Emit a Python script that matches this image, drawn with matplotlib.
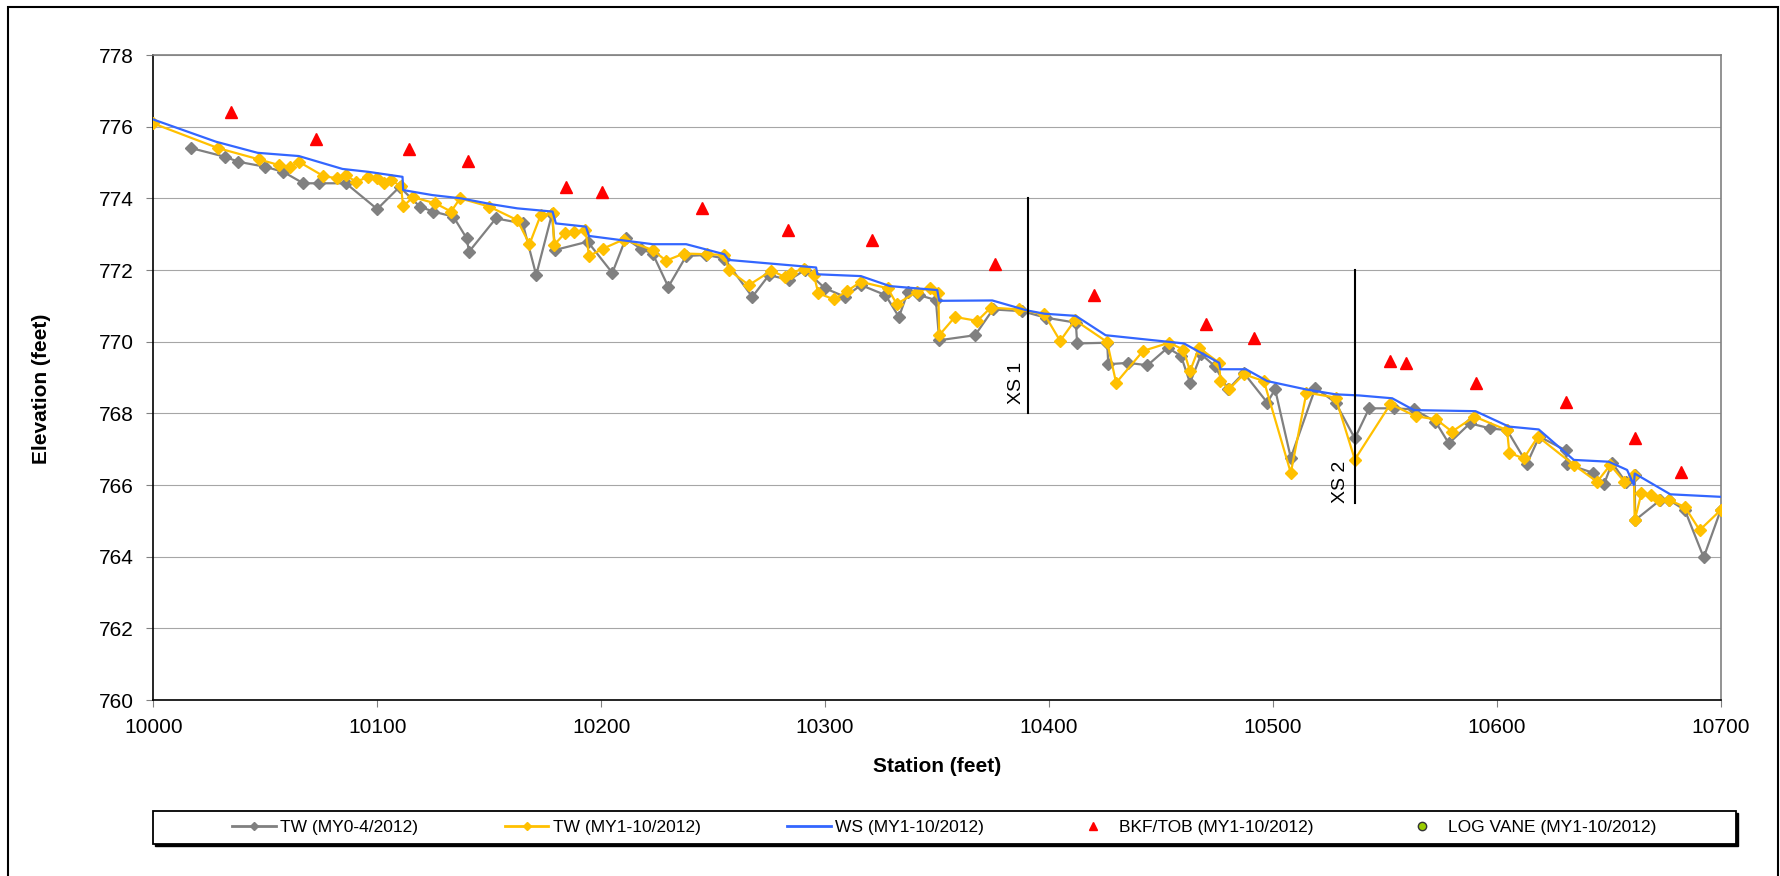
import matplotlib
matplotlib.use('Agg')
import matplotlib.pyplot as plt
from matplotlib.lines import Line2D
from matplotlib.patches import Rectangle

plt.rcParams['font.family'] = ['Liberation Sans', 'DejaVu Sans']

# TW (MY0-4/2012)
tw0_station = [10017, 10032, 10038, 10050, 10058, 10067, 10074, 10086, 10100, 10110,
               10119, 10125, 10134, 10140, 10141, 10153, 10165, 10171, 10178, 10179.5,
               10194, 10205, 10211, 10218, 10223, 10230, 10238, 10247, 10255, 10267.5,
               10275, 10284, 10291, 10300, 10309, 10316, 10327, 10333, 10337, 10342,
               10349.5, 10351, 10367, 10375, 10388, 10398.5, 10412, 10412.6, 10426, 10426.5,
               10435.4, 10444, 10453, 10459, 10463, 10468, 10474, 10480, 10487, 10497.5,
               10501, 10508, 10519, 10528, 10536.6, 10543, 10554, 10563, 10572.6, 10578.6,
               10588, 10597, 10604.6, 10613.5, 10619, 10630.7, 10631.4, 10643, 10648, 10651.5,
               10657.5, 10661.6, 10661.8, 10673, 10677, 10684, 10692.4, 10700]
tw0_elev = [775.40, 775.16, 775.02, 774.88, 774.74, 774.42, 774.42, 774.42, 773.70, 774.32,
            773.77, 773.63, 773.49, 772.88, 772.51, 773.44, 773.30, 771.86, 773.55, 772.56,
            772.79, 771.92, 772.88, 772.58, 772.46, 771.53, 772.39, 772.42, 772.32, 771.25,
            771.86, 771.72, 772.00, 771.49, 771.25, 771.58, 771.30, 770.69, 771.39, 771.30,
            771.16, 770.04, 770.18, 770.90, 770.85, 770.67, 770.53, 769.95, 769.97, 769.37,
            769.41, 769.34, 769.83, 769.60, 768.85, 769.65, 769.32, 768.67, 769.13, 768.30,
            768.67, 766.76, 768.71, 768.30, 767.30, 768.14, 768.14, 768.11, 767.77, 767.16,
            767.72, 767.58, 767.53, 766.60, 767.35, 766.97, 766.58, 766.34, 766.04, 766.62,
            766.09, 766.28, 765.02, 765.58, 765.58, 765.30, 763.98, 765.30]

# TW (MY1-10/2012)
tw1_station = [10000, 10029, 10047, 10056, 10061, 10065, 10076, 10082, 10086, 10090.5,
               10096, 10100, 10103, 10106, 10110.6, 10111.6, 10116, 10126, 10133, 10137,
               10150, 10162.6, 10168, 10173, 10178.3, 10179, 10184, 10188, 10193, 10194.6,
               10201, 10210, 10223, 10229, 10237, 10247.5, 10255, 10257, 10266, 10276,
               10282, 10285, 10290.6, 10295, 10297, 10304, 10310, 10316, 10328, 10332,
               10341, 10347, 10350.6, 10351, 10358, 10368, 10374, 10386.6, 10398, 10405,
               10411.6, 10426, 10430, 10442, 10453.6, 10460, 10463, 10467, 10476, 10476.6,
               10480.4, 10487, 10496, 10508, 10515, 10528, 10536.6, 10552.5, 10563.7, 10573,
               10580, 10590, 10604.6, 10605.6, 10612, 10618.4, 10634.4, 10644.8, 10650.7, 10657,
               10661.2, 10661.6, 10664.6, 10669, 10672.6, 10676.8, 10684, 10690.6, 10700]
tw1_elev = [776.09, 775.40, 775.09, 774.93, 774.87, 775.02, 774.62, 774.56, 774.65, 774.46,
            774.60, 774.56, 774.42, 774.51, 774.34, 773.78, 774.03, 773.86, 773.63, 774.00,
            773.77, 773.39, 772.72, 773.53, 773.58, 772.70, 773.04, 773.07, 773.11, 772.39,
            772.60, 772.85, 772.56, 772.26, 772.46, 772.44, 772.42, 772.00, 771.58, 771.98,
            771.81, 771.92, 772.04, 771.86, 771.35, 771.18, 771.42, 771.67, 771.49, 771.05,
            771.39, 771.51, 771.35, 770.18, 770.69, 770.58, 770.95, 770.90, 770.76, 770.02,
            770.60, 769.99, 768.85, 769.74, 769.97, 769.78, 769.18, 769.83, 769.41, 768.90,
            768.67, 769.09, 768.90, 766.34, 768.58, 768.44, 766.71, 768.26, 767.92, 767.83,
            767.49, 767.91, 767.53, 766.90, 766.74, 767.35, 766.56, 766.09, 766.56, 766.09,
            766.28, 765.02, 765.77, 765.72, 765.58, 765.58, 765.39, 764.74, 765.30]

# WS (MY1-10/2012)
ws_station = [10000, 10028, 10046.6, 10065, 10084.5, 10096, 10111.3, 10111.6, 10124.7, 10137.4,
              10151.5, 10162.6, 10178.3, 10179.8, 10193.2, 10194.6, 10223, 10238, 10255, 10257,
              10296, 10296.6, 10316, 10329, 10350.1, 10351, 10374.7, 10390.3, 10398, 10412,
              10425.3, 10460.3, 10476, 10476.6, 10488, 10497.5, 10514.6, 10528, 10538.4, 10553.3,
              10563, 10590.5, 10605.4, 10618.75, 10634.4, 10650, 10658.2, 10661.2, 10661.6, 10677.5,
              10700]
ws_elev = [776.20, 775.58, 775.27, 775.18, 774.82, 774.74, 774.60, 774.23, 774.09, 774.00,
           773.83, 773.72, 773.63, 773.30, 773.21, 772.95, 772.72, 772.72, 772.44, 772.28,
           772.07, 771.88, 771.83, 771.55, 771.44, 771.14, 771.15, 770.87, 770.78, 770.72,
           770.18, 769.95, 769.41, 769.23, 769.23, 768.90, 768.67, 768.53, 768.50, 768.42,
           768.09, 768.06, 767.63, 767.55, 766.70, 766.65, 766.42, 766.00, 766.32, 765.74,
           765.67]

# BKF/TOB (MY1-10/2012)
bkf_station = [10034.7, 10072.6, 10114, 10140.6, 10184.2, 10200.6, 10244.9, 10283.6, 10321.1,
               10375.9, 10420, 10470, 10491.5, 10552.2, 10559.5, 10590.8, 10630.7, 10661.6, 10682.4]
bkf_elev = [776.40, 775.65, 775.38, 775.05, 774.31, 774.18, 773.72, 773.13, 772.84,
            772.16, 771.29, 770.48, 770.11, 769.46, 769.40, 768.85, 768.32, 767.30, 766.37]

# cross sections
xs_names = ['XS 1', 'XS 2']
xs_station = [10390.6, 10536.6]
xs_bottom = [768.0, 765.5]
xs_top = [774.0, 772.0]

labels = ['TW (MY0-4/2012)', 'TW (MY1-10/2012)', 'WS (MY1-10/2012)',
          'BKF/TOB (MY1-10/2012)', 'LOG VANE (MY1-10/2012)']

W, H = 1780, 876
fig = plt.figure(figsize=(W / 100, H / 100), dpi=100)
ax = fig.add_axes([153.3 / W, 1 - 700 / H, (1720.7 - 153.3) / W, (700 - 55) / H])

ax.plot(tw0_station, tw0_elev, color='#808080', lw=1.6, marker='D', ms=6.5, zorder=3)
ax.plot(tw1_station, tw1_elev, color='#FFC000', lw=1.6, marker='D', ms=6.5, zorder=4)
ax.plot(ws_station, ws_elev, color='#3366FF', lw=1.6, zorder=5)
ax.plot(bkf_station, bkf_elev, linestyle='none', color='#FF0000', marker='^', ms=9, zorder=6)

for x, y0, y1 in zip(xs_station, xs_bottom, xs_top):
    ax.plot([x, x], [y0, y1], color='black', lw=1.5, zorder=7)
ax.annotate(xs_names[0], (xs_station[0], xs_bottom[0]), xytext=(-2, 6.5), textcoords='offset points',
            rotation=90, ha='right', va='bottom', fontsize=14)
ax.annotate(xs_names[1], (xs_station[1], xs_bottom[1]), xytext=(-4.5, 0), textcoords='offset points',
            rotation=90, ha='right', va='bottom', fontsize=14)

ax.set_xlim(10000, 10700)
ax.set_ylim(760, 778)
ax.set_xticks(range(10000, 10701, 100))
ax.set_yticks(range(760, 779, 2))
ax.tick_params(labelsize=15, length=5, color='#808080', direction='out')
ax.tick_params(axis='x', pad=8)
ax.tick_params(axis='y', pad=9)
ax.grid(axis='y', color='#a6a6a6', lw=0.8)
ax.set_axisbelow(True)
ax.spines['left'].set_color('black')
ax.spines['bottom'].set_color('black')
ax.spines['top'].set_color('#808080')
ax.spines['right'].set_color('#808080')
for s in ax.spines.values():
    s.set_linewidth(1.2)

fig.text(937 / W, 1 - 767 / H, 'Station (feet)', ha='center', va='center', fontsize=15, fontweight='bold')
fig.text(42 / W, 1 - 389 / H, 'Elevation (feet)', ha='center', va='center', rotation=90,
         fontsize=15, fontweight='bold')

# outer border
fig.patches.append(Rectangle((8 / W, -0.05), (1777.7 - 8) / W, 0.05 + 1 - 7 / H, transform=fig.transFigure,
                             fill=False, edgecolor='black', lw=1.5))

# legend box with shadow
lx0, lx1, ly0, ly1 = 152.7, 1735.7, 810.7, 844
fig.patches.append(Rectangle(((lx0 + 2) / W, 1 - (ly1 + 2) / H), (lx1 - lx0) / W, (ly1 - ly0) / H,
                             transform=fig.transFigure, facecolor='black', edgecolor='black', lw=1))
fig.patches.append(Rectangle((lx0 / W, 1 - ly1 / H), (lx1 - lx0) / W, (ly1 - ly0) / H,
                             transform=fig.transFigure, facecolor='white', edgecolor='black', lw=1.3))

handles = [
    Line2D([], [], color='#808080', lw=2, marker='D', ms=4.5),
    Line2D([], [], color='#FFC000', lw=2, marker='D', ms=4.5),
    Line2D([], [], color='#3366FF', lw=2),
    Line2D([], [], linestyle='none', color='#FF0000', marker='^', ms=6),
    Line2D([], [], linestyle='none', marker='o', ms=6, markerfacecolor='#99CC00', markeredgecolor='#333333'),
]
fig.legend(handles, labels, loc='center', bbox_to_anchor=((lx0 + lx1) / 2 / W, 1 - 827 / H),
           ncol=5, frameon=False, fontsize=12.5, handlelength=2.5, handletextpad=0.25,
           columnspacing=5.0)

plt.savefig('out.png', dpi=100)
